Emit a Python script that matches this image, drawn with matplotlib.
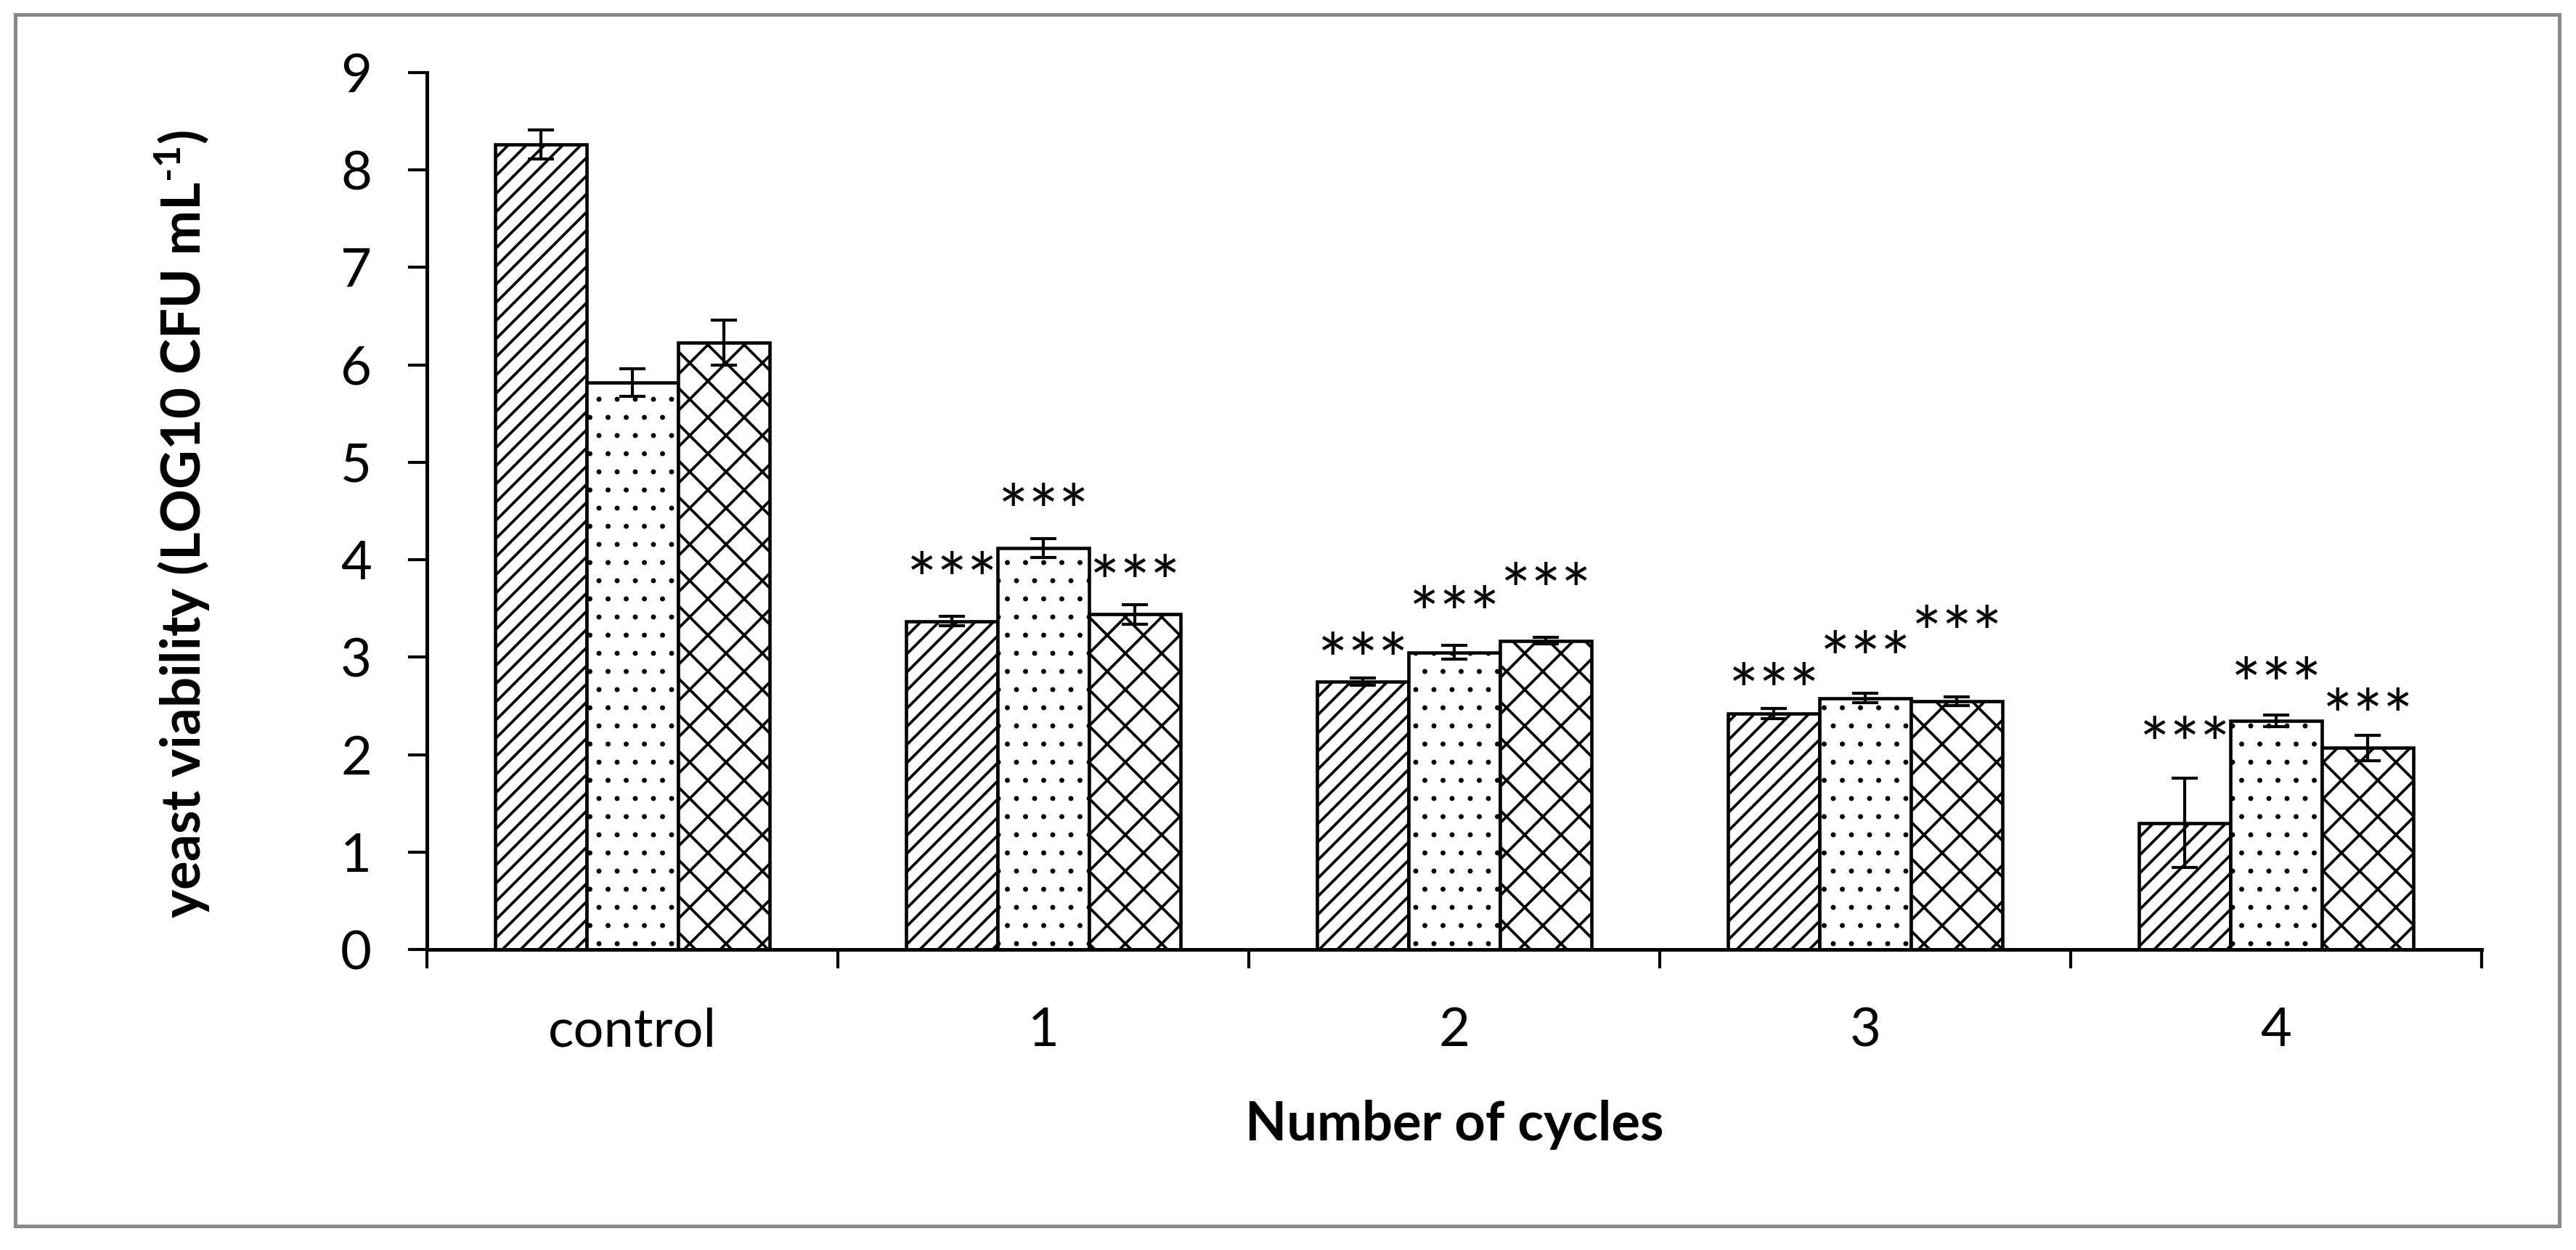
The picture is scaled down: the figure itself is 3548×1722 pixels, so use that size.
import numpy as np
import matplotlib.pyplot as plt
from matplotlib.patches import Rectangle

plt.rcParams['font.family'] = ['Lato', 'DejaVu Sans']
plt.rcParams['mathtext.fontset'] = 'custom'
plt.rcParams['mathtext.rm'] = 'Lato:bold'
plt.rcParams['mathtext.default'] = 'rm'

categories = ["control", "1", "2", "3", "4"]

# three treatments, means and error
vals_a = [8.26, 3.37, 2.75, 2.42, 1.30]
err_a = [0.15, 0.05, 0.04, 0.05, 0.46]
vals_b = [5.82, 4.12, 3.05, 2.58, 2.35]
err_b = [0.14, 0.10, 0.07, 0.05, 0.06]
vals_c = [6.23, 3.44, 3.17, 2.55, 2.07]
err_c = [0.23, 0.10, 0.03, 0.045, 0.13]

# significance marks and the height they sit at (none for control)
stars = ["", "***", "***", "***", "***"]
star_y_a = [0, 3.89, 3.06, 2.75, 2.20]
star_y_b = [0, 4.59, 3.54, 3.08, 2.81]
star_y_c = [0, 3.86, 3.78, 3.34, 2.49]

W, H, DPI = 3548, 1722, 300
fig = plt.figure(figsize=(W / DPI, H / DPI), dpi=DPI)
ax = fig.add_axes([588 / W, 1 - 1308 / H, (3418 - 588) / W, (1308 - 100) / H])

x = np.arange(len(categories))
bw = 1 / 4.5
series = [(vals_a, err_a, star_y_a, '////', 0.9),
          (vals_b, err_b, star_y_b, '..', 0.45),
          (vals_c, err_c, star_y_c, 'xx', 0.9)]

for k, (v, e, sy, hatch, hlw) in enumerate(series):
    xs = x + (k - 1) * bw
    plt.rcParams['hatch.linewidth'] = hlw
    bars = ax.bar(xs, v, width=bw, color='white', edgecolor='black',
                  linewidth=1.1, hatch=hatch, zorder=2)
    for b in bars:
        if hasattr(b, 'set_hatch_linewidth'):
            b.set_hatch_linewidth(hlw)
    ax.errorbar(xs, v, yerr=e, fmt='none', ecolor='black', elinewidth=1.0,
                capsize=4.4, capthick=1.0, zorder=3)
    for xi, s, yy in zip(xs, stars, sy):
        if s:
            ax.annotate(s, (xi, yy), xytext=(0, -11.5), textcoords='offset points',
                        ha='center', va='baseline', fontsize=23.5)

ax.set_xlim(-0.5, 4.5)
ax.set_ylim(0, 9)
ax.set_yticks(range(10))
ax.set_xticks(np.arange(-0.5, 5, 1))
ax.set_xticklabels([])
ax.set_xticks(x, minor=True)
ax.set_xticklabels(categories, minor=True)

ax.tick_params(axis='y', direction='out', length=6.2, width=1.0, pad=12, labelsize=17.8)
ax.tick_params(axis='x', which='major', direction='out', length=6.2, width=1.0)
ax.tick_params(axis='x', which='minor', length=0, pad=19, labelsize=17.8)

for side in ['top', 'right']:
    ax.spines[side].set_visible(False)
for side in ['left', 'bottom']:
    ax.spines[side].set_linewidth(1.2)

ax.set_xlabel("Number of cycles", fontsize=17.8, fontweight='bold')
ax.xaxis.set_label_coords(0.5, -0.1714)
ax.set_ylabel(r"yeast viability (LOG10 CFU mL$^{\text{-1}}$)", fontsize=17.8, fontweight='bold')
ax.yaxis.set_label_coords(-0.1046, 0.485)

fig.patches.append(Rectangle((21 / W, 33 / H), (3525 - 21) / W, (1702 - 33) / H,
                             transform=fig.transFigure, fill=False,
                             edgecolor='#898989', linewidth=1.2))

fig.savefig('out.png', dpi=DPI)
